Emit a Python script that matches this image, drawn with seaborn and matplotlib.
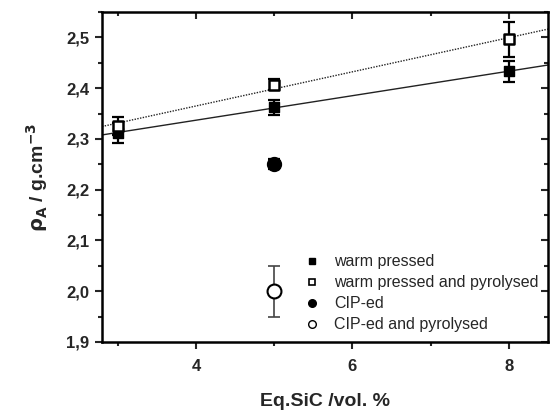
import numpy as np
import pandas as pd
import matplotlib
matplotlib.use("Agg")
import matplotlib.pyplot as plt
import matplotlib.lines as mlines
import seaborn as sns
from matplotlib.ticker import MultipleLocator, FuncFormatter

sns.set_style("ticks")
plt.rcParams['font.family'] = ['Liberation Sans', 'DejaVu Sans']

# data
wp_x = [3, 5, 8]
wp_y = [2.312, 2.362, 2.433]
wp_err = [0.02, 0.015, 0.021]

wpp_x = [3, 5, 8]
wpp_y = [2.326, 2.407, 2.496]
wpp_err = [0.018, 0.01, 0.034]

cip_x = [5]
cip_y = [2.251]
cip_err = [0.01]

cipp_x = [5]
cipp_y = [2.0]
cipp_err = [0.05]

labels = ["warm pressed", "warm pressed and pyrolysed", "CIP-ed", "CIP-ed and pyrolysed"]

fig = plt.figure(figsize=(5.52, 4.11), dpi=100)
ax = fig.add_axes([0.1848, 0.1679, 0.808, 0.803])
ax.set_xlim(2.8, 8.5)
ax.set_ylim(1.9, 2.55)

# regression lines
sns.regplot(x=wp_x, y=wp_y, ax=ax, scatter=False, ci=None, truncate=False,
            line_kws=dict(color='#222222', lw=1.0, ls='-'))
sns.regplot(x=wpp_x, y=wpp_y, ax=ax, scatter=False, ci=None, truncate=False,
            line_kws=dict(color='#222222', lw=1.0, ls=(0, (1, 1))))

ebk = dict(fmt='none', ecolor='black', elinewidth=1.6, capsize=4, capthick=1.6, zorder=3)
ax.errorbar(wp_x, wp_y, yerr=wp_err, **ebk)
ax.errorbar(wpp_x, wpp_y, yerr=wpp_err, **ebk)
ax.errorbar(cip_x, cip_y, yerr=cip_err, **ebk)
ax.errorbar(cipp_x, cipp_y, yerr=cipp_err, fmt='none', ecolor='#444444',
            elinewidth=1.2, capsize=4, capthick=1.2, zorder=3)

sq = 7.5
ci = 10
sns.scatterplot(x=wp_x, y=wp_y, ax=ax, marker='s', s=sq**2, color='black',
                edgecolor='black', linewidth=1, zorder=4, legend=False)
sns.scatterplot(x=wpp_x, y=wpp_y, ax=ax, marker='s', s=sq**2, color='white',
                edgecolor='black', linewidth=1.8, zorder=5, legend=False)
sns.scatterplot(x=cip_x, y=cip_y, ax=ax, marker='o', s=ci**2, color='black',
                edgecolor='black', linewidth=1, zorder=4, legend=False)
sns.scatterplot(x=cipp_x, y=cipp_y, ax=ax, marker='o', s=ci**2, color='white',
                edgecolor='black', linewidth=1.5, zorder=5, legend=False)

ax.set_xlim(2.8, 8.5)
ax.set_ylim(1.9, 2.55)

ax.xaxis.set_major_locator(MultipleLocator(2))
ax.xaxis.set_minor_locator(MultipleLocator(1))
ax.yaxis.set_major_locator(MultipleLocator(0.1))
ax.yaxis.set_minor_locator(MultipleLocator(0.05))
ax.yaxis.set_major_formatter(FuncFormatter(lambda v, p: f"{v:.1f}".replace('.', ',')))
ax.xaxis.set_major_formatter(FuncFormatter(lambda v, p: f"{v:.0f}"))

for s in ax.spines.values():
    s.set_linewidth(1.8)
    s.set_color('black')
    s.set_visible(True)

ax.tick_params(axis='both', which='major', direction='out', length=5, width=1.5,
               labelsize=12)
ax.tick_params(axis='x', which='major', pad=7)
ax.tick_params(axis='y', which='major', pad=4)
ax.tick_params(axis='both', which='minor', direction='out', length=3, width=1.5)
ax.tick_params(axis='x', which='both', top=True, labeltop=False)
ax.tick_params(axis='y', which='both', right=True, labelright=False)
for t in ax.get_xticklabels() + ax.get_yticklabels():
    t.set_fontweight('bold')
for tick in ax.xaxis.get_major_ticks() + ax.xaxis.get_minor_ticks():
    tick.tick2line.set_marker(mlines.TICKDOWN)
for tick in ax.yaxis.get_major_ticks() + ax.yaxis.get_minor_ticks():
    tick.tick2line.set_marker(mlines.TICKLEFT)

ax.set_xlabel("Eq.SiC /vol. %", fontsize=14, fontweight='bold', labelpad=14)
ax.set_ylabel(r"$\mathbf{\rho_A}$ / g.cm$^{\mathbf{-3}}$", fontsize=14,
              fontweight='bold', labelpad=12)

handles = [
    mlines.Line2D([], [], ls='none', marker='s', ms=5, mfc='black', mec='black'),
    mlines.Line2D([], [], ls='none', marker='s', ms=5, mfc='white', mec='black', mew=1.2),
    mlines.Line2D([], [], ls='none', marker='o', ms=5.5, mfc='black', mec='black'),
    mlines.Line2D([], [], ls='none', marker='o', ms=5.5, mfc='white', mec='black', mew=1.0),
]
ax.legend(handles, labels, loc='lower right', frameon=False, fontsize=11.5,
          handlelength=1.0, handletextpad=0.9, labelspacing=0.38,
          borderaxespad=0.2, bbox_to_anchor=(1.0, 0.0))

fig.savefig("out.png", dpi=100)
